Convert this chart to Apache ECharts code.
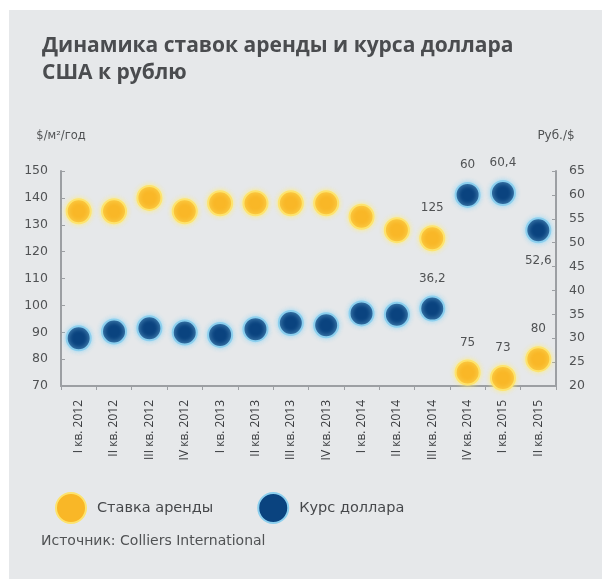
<!DOCTYPE html>
<html>
<head>
<meta charset="utf-8">
<script src="https://cdn.jsdelivr.net/npm/echarts@6/dist/echarts.min.js"></script>
<style>
  html, body { margin: 0; padding: 0; background: #ffffff; }
  #panel { position: absolute; left: 9px; top: 10px; width: 593px; height: 569px; background: #e6e8ea; }
  #chart { position: absolute; left: 0; top: 0; width: 611px; height: 579px; }
</style>
</head>
<body>
<div id="panel"></div>
<div id="chart"></div>
<script>
// Quarters on the category axis
const quarters = [
  'I кв. 2012', 'II кв. 2012', 'III кв. 2012', 'IV кв. 2012',
  'I кв. 2013', 'II кв. 2013', 'III кв. 2013', 'IV кв. 2013',
  'I кв. 2014', 'II кв. 2014', 'III кв. 2014', 'IV кв. 2014',
  'I кв. 2015', 'II кв. 2015'
];

// Rent rate, $/м²/год (left axis)
const rentRate = [135, 135, 140, 135, 138, 138, 138, 138, 133, 128, 125, 75, 73, 80];

// USD/RUB exchange rate, Руб./$ (right axis)
const usdRate = [30.0, 31.4, 32.1, 31.2, 30.7, 31.9, 33.2, 32.7, 35.2, 34.9, 36.2, 60.0, 60.4, 52.6];

// Points whose values are printed next to them
const rentLabelled = [10, 11, 12, 13];
const usdLabelled = [10, 11, 12];
const usdLabelledBelow = [13];

const titleFont = '"Open Sans", "DejaVu Sans", sans-serif';
const bodyFont = '"DejaVu Sans", "Open Sans", sans-serif';
const axisGray = '#9c9fa3';
const textGray = '#505254';

function fmt(v) {
  return String(v).replace('.', ',');
}

function buildData(values, above, below) {
  return values.map((v, i) => {
    if (above.includes(i)) {
      return { value: v, label: { show: true, position: 'top', distance: 11 } };
    }
    if (below.includes(i)) {
      return { value: v, label: { show: true, position: 'bottom', distance: 12 } };
    }
    return v;
  });
}

const chart = echarts.init(document.getElementById('chart'), null, { renderer: 'canvas' });

chart.setOption({
  backgroundColor: 'transparent',
  animation: false,
  textStyle: { fontFamily: bodyFont },
  title: {
    text: 'Динамика ставок аренды и курса доллара\nСША к рублю',
    left: 37,
    top: 28,
    textStyle: {
      fontFamily: titleFont,
      fontSize: 21,
      fontWeight: 'bold',
      color: '#4a4c4f',
      lineHeight: 27
    }
  },
  legend: {
    left: 50,
    top: 487,
    icon: 'circle',
    itemWidth: 30,
    itemHeight: 30,
    itemGap: 44,
    textStyle: {
      fontFamily: bodyFont,
      fontSize: 14.5,
      color: '#46484b',
      padding: [0, 0, 0, 6]
    },
    data: ['Ставка аренды', 'Курс доллара']
  },
  graphic: [
    {
      type: 'text',
      left: 41,
      top: 534,
      style: {
        text: 'Источник: Colliers International',
        fontFamily: bodyFont,
        fontSize: 14,
        fill: textGray
      }
    }
  ],
  grid: {
    left: 61,
    right: 55,
    top: 171,
    bottom: 193,
    containLabel: false
  },
  xAxis: {
    type: 'category',
    data: quarters,
    boundaryGap: true,
    axisLine: { lineStyle: { color: axisGray, width: 2 } },
    axisTick: { show: true, length: 4, lineStyle: { color: axisGray } },
    axisLabel: {
      rotate: 90,
      margin: 14,
      fontSize: 12,
      color: '#3a3c3f',
      fontFamily: titleFont
    },
    splitLine: { show: false }
  },
  yAxis: [
    {
      type: 'value',
      min: 70,
      max: 150,
      interval: 10,
      position: 'left',
      name: '$/м²/год',
      nameGap: 29,
      nameTextStyle: { fontSize: 11.5, color: textGray, fontFamily: bodyFont },
      axisLine: { show: true, lineStyle: { color: axisGray, width: 2 } },
      axisTick: { show: true, inside: true, length: 4, lineStyle: { color: axisGray } },
      axisLabel: { fontSize: 12.5, color: textGray, margin: 13, fontFamily: bodyFont },
      splitLine: { show: false }
    },
    {
      type: 'value',
      min: 20,
      max: 65,
      interval: 5,
      position: 'right',
      name: 'Руб./$',
      nameGap: 29,
      nameTextStyle: { fontSize: 12, color: textGray, fontFamily: bodyFont },
      axisLine: { show: true, lineStyle: { color: axisGray, width: 2 } },
      axisTick: { show: true, inside: true, length: 4, lineStyle: { color: axisGray } },
      axisLabel: { fontSize: 12.5, color: textGray, margin: 13, fontFamily: bodyFont },
      splitLine: { show: false }
    }
  ],
  series: [
    {
      name: 'Ставка аренды',
      type: 'scatter',
      yAxisIndex: 0,
      symbol: 'circle',
      symbolSize: 24,
      itemStyle: {
        color: '#f9b727',
        opacity: 1,
        borderColor: '#fde36e',
        borderWidth: 2,
        shadowColor: 'rgba(255, 236, 120, 0.9)',
        shadowBlur: 5
      },
      label: {
        show: false,
        color: textGray,
        fontSize: 12,
        fontFamily: bodyFont,
        formatter: p => fmt(p.value)
      },
      data: buildData(rentRate, rentLabelled, [])
    },
    {
      name: 'Курс доллара',
      type: 'scatter',
      yAxisIndex: 1,
      symbol: 'circle',
      symbolSize: 24,
      itemStyle: {
        color: '#0a437f',
        opacity: 1,
        borderColor: '#8ccfee',
        borderWidth: 2,
        shadowColor: 'rgba(150, 215, 245, 0.9)',
        shadowBlur: 5
      },
      label: {
        show: false,
        color: textGray,
        fontSize: 12,
        fontFamily: bodyFont,
        formatter: p => fmt(p.value)
      },
      data: buildData(usdRate, usdLabelled, usdLabelledBelow)
    }
  ]
});
</script>
</body>
</html>
